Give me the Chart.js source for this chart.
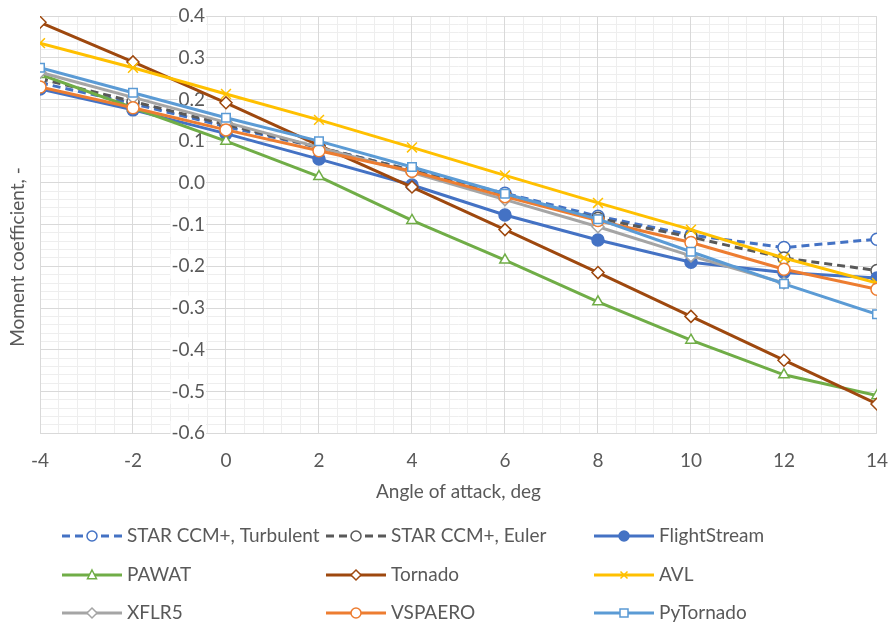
<!DOCTYPE html>
<html lang="en">
<head>
    <meta charset="UTF-8">
    <title>Moment coefficient vs angle of attack</title>
    <script src="https://cdn.jsdelivr.net/npm/chart.js@4.4.0/dist/chart.umd.min.js"></script>
    <style>
        body {
            margin: 0;
            background-color: #fff;
        }
        .chart-box {
            position: relative;
            width: 888px;
            height: 628px;
        }
    </style>
</head>
<body>
    <div class="chart-box">
        <canvas id="momentChart"></canvas>
    </div>

    <script>
        // data
        const angles = [-4, -2, 0, 2, 4, 6, 8, 10, 12, 14];
        const starTurbulent = [0.24, 0.19, 0.135, 0.085, 0.03, -0.025, -0.08, -0.125, -0.155, -0.135];
        const starEuler = [0.25, 0.195, 0.14, 0.085, 0.03, -0.03, -0.085, -0.13, -0.18, -0.21];
        const flightStream = [0.225, 0.175, 0.118, 0.057, -0.005, -0.077, -0.137, -0.19, -0.215, -0.228];
        const pawat = [0.26, 0.18, 0.1, 0.015, -0.09, -0.185, -0.285, -0.377, -0.46, -0.51];
        const tornado = [0.385, 0.29, 0.192, 0.09, -0.01, -0.112, -0.215, -0.32, -0.425, -0.53];
        const avl = [0.335, 0.276, 0.213, 0.151, 0.085, 0.018, -0.048, -0.112, -0.18, -0.24];
        const xflr5 = [0.265, 0.205, 0.145, 0.085, 0.025, -0.04, -0.105, -0.175, -0.24, null];
        const vspaero = [0.23, 0.18, 0.127, 0.077, 0.028, -0.033, -0.09, -0.143, -0.207, -0.255];
        const pyTornado = [0.276, 0.216, 0.156, 0.1, 0.038, -0.026, -0.087, -0.165, -0.242, -0.315];

        const seriesNames = ['STAR CCM+, Turbulent', 'STAR CCM+, Euler', 'FlightStream', 'PAWAT', 'Tornado', 'AVL', 'XFLR5', 'VSPAERO', 'PyTornado'];
        const seriesValues = [starTurbulent, starEuler, flightStream, pawat, tornado, avl, xflr5, vspaero, pyTornado];

        const xTicks = [-4, 14, 2];      // min, max, step
        const yTicks = [-0.6, 0.4, 0.1];
        const xTitle = 'Angle of attack, deg';
        const yTitle = 'Moment coefficient, -';

        const FONT = 'Lato, "Open Sans", sans-serif';
        const SIZE = 19;
        const TEXT = '#595959';

        // look of each series (Excel style)
        const styles = [
            { color: '#4472C4', dash: [8, 5], point: 'circle', fill: '#fff' },
            { color: '#595959', dash: [8, 5], point: 'circle', fill: '#fff' },
            { color: '#4472C4', dash: [], point: 'circle', fill: '#4472C4' },
            { color: '#70AD47', dash: [], point: 'triangle', fill: '#fff' },
            { color: '#9E480E', dash: [], point: 'rectRot', fill: '#fff' },
            { color: '#FFC000', dash: [], point: 'crossRot', fill: '#fff' },
            { color: '#A5A5A5', dash: [], point: 'rectRot', fill: '#fff' },
            { color: '#ED7D31', dash: [], point: 'circle', fill: '#fff' },
            { color: '#5B9BD5', dash: [], point: 'rect', fill: '#fff' }
        ];

        const datasets = seriesValues.map(function (vals, i) {
            const s = styles[i];
            return {
                label: seriesNames[i],
                data: angles.map(function (a, j) { return { x: a, y: vals[j] }; }),
                borderColor: s.color,
                backgroundColor: s.fill,
                borderWidth: 3,
                borderDash: s.dash,
                pointStyle: s.point,
                pointRadius: s.point === 'crossRot' ? 7 : 6,
                pointBorderWidth: 1.5,
                pointBackgroundColor: s.fill,
                pointBorderColor: s.color,
                tension: 0,
                order: seriesValues.length - i   // later series on top, like Excel
            };
        });

        // small marker drawer for the legend
        function drawMarker(ctx, style, x, y, r) {
            ctx.beginPath();
            if (style === 'circle') {
                ctx.arc(x, y, r, 0, Math.PI * 2);
            } else if (style === 'triangle') {
                ctx.moveTo(x, y - r);
                ctx.lineTo(x + r * 0.9, y + r * 0.75);
                ctx.lineTo(x - r * 0.9, y + r * 0.75);
                ctx.closePath();
            } else if (style === 'rectRot') {
                ctx.moveTo(x, y - r);
                ctx.lineTo(x + r, y);
                ctx.lineTo(x, y + r);
                ctx.lineTo(x - r, y);
                ctx.closePath();
            } else if (style === 'rect') {
                ctx.rect(x - r * 0.8, y - r * 0.8, r * 1.6, r * 1.6);
            } else if (style === 'crossRot') {
                ctx.moveTo(x - r * 0.7, y - r * 0.7);
                ctx.lineTo(x + r * 0.7, y + r * 0.7);
                ctx.moveTo(x + r * 0.7, y - r * 0.7);
                ctx.lineTo(x - r * 0.7, y + r * 0.7);
            }
        }

        const gridLegend = {
            id: 'gridLegend',
            afterDraw(chart) {
                const ctx = chart.ctx;
                const colX = [62, 326, 594];
                const rowY = [536, 575, 613];
                ctx.save();
                chart.data.datasets.forEach(function (ds, i) {
                    const x = colX[i % 3];
                    const y = rowY[Math.floor(i / 3)];
                    ctx.strokeStyle = ds.borderColor;
                    ctx.lineWidth = 3;
                    ctx.setLineDash(ds.borderDash);
                    ctx.beginPath();
                    ctx.moveTo(x, y);
                    ctx.lineTo(x + 60, y);
                    ctx.stroke();
                    ctx.setLineDash([]);
                    ctx.lineWidth = 1.5;
                    ctx.fillStyle = ds.pointBackgroundColor;
                    drawMarker(ctx, ds.pointStyle, x + 30, y, 5);
                    if (ds.pointStyle !== 'crossRot') ctx.fill();
                    ctx.stroke();
                    ctx.fillStyle = TEXT;
                    ctx.font = SIZE + 'px ' + FONT;
                    ctx.textAlign = 'left';
                    ctx.textBaseline = 'middle';
                    ctx.fillText(ds.label, x + 65, y);
                });
                ctx.restore();
            }
        };

        // axis titles
        const axisTitles = {
            id: 'axisTitles',
            afterDraw(chart) {
                const ctx = chart.ctx;
                const area = chart.chartArea;
                ctx.save();
                ctx.fillStyle = TEXT;
                ctx.font = SIZE + 'px ' + FONT;
                ctx.textAlign = 'center';
                ctx.textBaseline = 'middle';
                ctx.fillText(xTitle, (area.left + area.right) / 2, area.bottom + 59);
                ctx.translate(18, area.top + 241);
                ctx.rotate(-Math.PI / 2);
                ctx.fillText(yTitle, 0, 0);
                ctx.restore();
            }
        };

        const ctx = document.getElementById('momentChart').getContext('2d');
        new Chart(ctx, {
            type: 'line',
            data: { datasets: datasets },
            plugins: [gridLegend, axisTitles],
            options: {
                responsive: true,
                maintainAspectRatio: false,
                animation: false,
                layout: {
                    padding: { left: 40, right: 11, top: 16, bottom: 156 }
                },
                plugins: {
                    legend: { display: false },
                    tooltip: { enabled: false }
                },
                scales: {
                    // minor gridlines
                    xm: {
                        type: 'linear',
                        axis: 'x',
                        position: 'bottom',
                        min: xTicks[0],
                        max: xTicks[1],
                        ticks: { display: false, stepSize: 0.4 },
                        grid: { color: '#EEEEEE', drawTicks: false, z: -1 },
                        border: { display: false }
                    },
                    ym: {
                        type: 'linear',
                        axis: 'y',
                        position: 'left',
                        min: yTicks[0],
                        max: yTicks[1],
                        ticks: { display: false, stepSize: 0.02 },
                        grid: { color: '#EEEEEE', drawTicks: false, z: -1 },
                        border: { display: false }
                    },
                    x: {
                        type: 'linear',
                        position: 'bottom',
                        min: xTicks[0],
                        max: xTicks[1],
                        ticks: {
                            stepSize: xTicks[2],
                            color: TEXT,
                            padding: 0,
                            font: { family: FONT, size: SIZE }
                        },
                        grid: { color: '#D9D9D9', drawTicks: true, tickLength: 16, tickColor: 'rgba(0,0,0,0)' },
                        border: { display: false }
                    },
                    // y axis line crossing at x = 0
                    y: {
                        type: 'linear',
                        position: { x: 0 },
                        min: yTicks[0],
                        max: yTicks[1],
                        ticks: { display: false, stepSize: yTicks[2] },
                        grid: { color: '#D9D9D9', tickLength: 7, tickColor: '#D9D9D9' },
                        border: { display: true, color: '#D9D9D9' }
                    },
                    // y tick labels, a little left of the axis line
                    yl: {
                        type: 'linear',
                        axis: 'y',
                        position: { x: -0.45 },
                        min: yTicks[0],
                        max: yTicks[1],
                        ticks: {
                            stepSize: yTicks[2],
                            color: TEXT,
                            padding: 0,
                            font: { family: FONT, size: SIZE },
                            showLabelBackdrop: true,
                            backdropColor: '#fff',
                            backdropPadding: 1,
                            callback: function (v) { return v.toFixed(1); }
                        },
                        grid: { display: false },
                        border: { display: false }
                    }
                }
            }
        });
    </script>
</body>
</html>
